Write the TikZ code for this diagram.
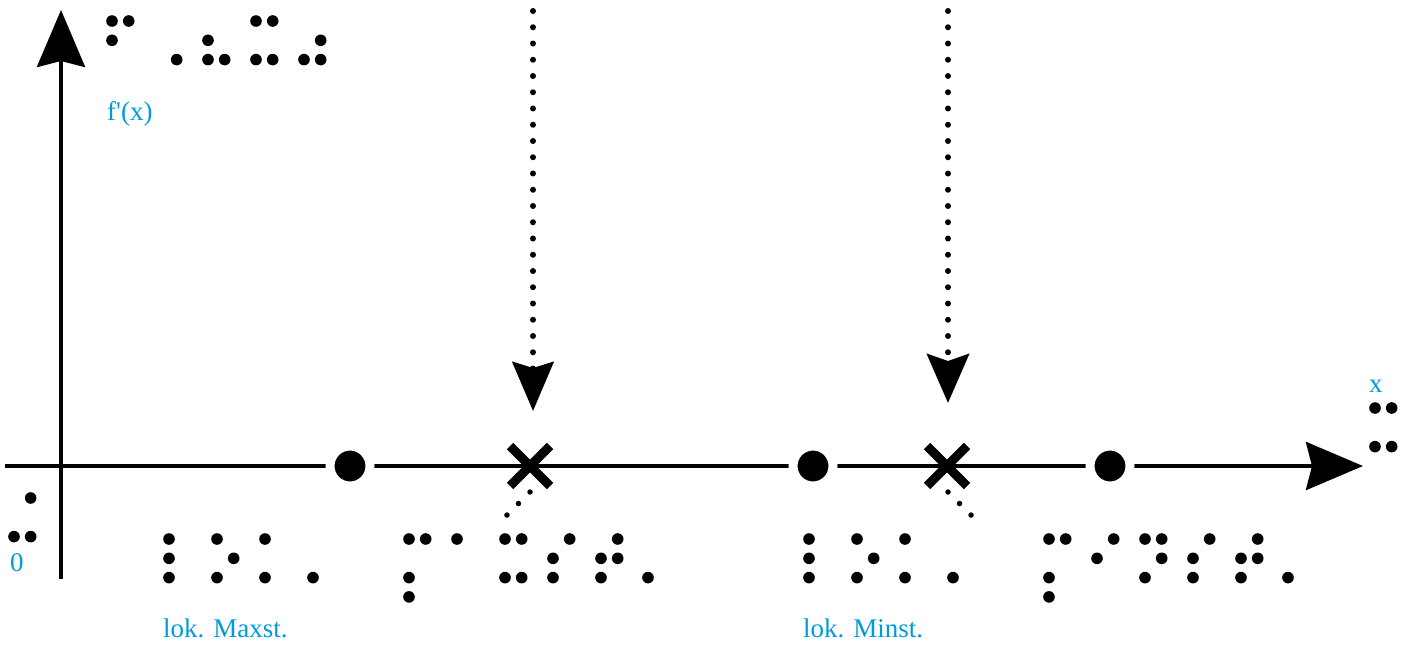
\documentclass[tikz,border=0pt]{standalone}
\usepackage{fontspec}
\setmainfont{Liberation Serif}
\usepackage{xcolor}
\usepackage{tikz}
\usetikzlibrary{arrows.meta, shapes.misc}

\definecolor{labelblue}{RGB}{0,155,220}

% one braille cell, top left dot at (#1,#2), dots #3 (8-dot numbering)
\newcommand{\brl}[3]{%
  \foreach \d in {#3}{
    \pgfmathsetmacro{\bx}{#1+16.7*{0,0,0,1,1,1,0,1}[\d-1]}
    \pgfmathsetmacro{\by}{#2+19.3*{0,1,2,0,1,2,3,3}[\d-1]}
    \fill (\bx,\by) circle (5.8pt);
  }}

\begin{document}
\begin{tikzpicture}[
    x=1pt, y=-1pt,
    axis/.style={line width=4pt},
    dotline/.style={line width=6pt, line cap=round, dash pattern=on 0pt off 16.25pt},
    smalldots/.style={line width=5.5pt, line cap=round, dash pattern=on 0pt off 16.3pt},
    extremum/.style={circle, fill=black, draw=white, line width=9pt, minimum size=40pt, inner sep=0pt},
    crossmark/.style={cross out, draw=black, line width=9pt, minimum size=31pt, inner sep=0pt},
    lbl/.style={text=labelblue, font=\fontsize{27}{32}\selectfont, inner sep=0pt, anchor=base west}
]
\useasboundingbox (0,0) rectangle (1409,645);

% axes
\coordinate (xstart) at (5,466);
\coordinate (xtip) at (1363,466);
\coordinate (ystart) at (61,579);
\coordinate (ytip) at (61,10);
\draw [axis, -{Stealth[length=57pt, width=48pt, inset=6pt]}] (xstart) -- (xtip);
\draw [axis, -{Stealth[length=57pt, width=48pt, inset=6pt]}] (ystart) -- (ytip);

% points on the x axis
\node (max) [extremum] at (350,466) {};
\node (min) [extremum] at (813,466) {};
\node (right) [extremum] at (1110,466) {};
\node (zero1) [crossmark] at (530,466) {};
\node (zero2) [crossmark] at (947,466) {};

% dotted arrows from the top
\coordinate (top1) at (533,11);
\coordinate (tip1) at (533,411);
\coordinate (top2) at (948,11);
\coordinate (tip2) at (948,403);
\draw [dotline, -{Stealth[length=49pt, width=41pt, inset=6pt]}] (top1) -- (tip1);
\draw [dotline, -{Stealth[length=49pt, width=42pt, inset=7pt]}] (top2) -- (tip2);

% dotted leaders below the crosses
\coordinate (lead1a) at (530,492);
\coordinate (lead1b) at (506.5,515.5);
\coordinate (lead2a) at (948,492);
\coordinate (lead2b) at (971.5,515.5);
\draw [smalldots] (lead1a) -- (lead1b);
\draw [smalldots] (lead2a) -- (lead2b);

% labels
\node (fx) [lbl] at (107,120) {f\textquotesingle(x)};
\node (orig) [lbl] at (10,571) {0};
\node (xlbl) [lbl] at (1369,392) {x};
\node (maxlbl) [lbl] at (163,637) {lok. Maxst.};
\node (minlbl) [lbl] at (803,637) {lok. Minst.};

% braille: f'(x)
\brl{112}{21}{1,2,4}
\brl{160}{21}{6}
\brl{208}{21}{2,3,6}
\brl{256}{21}{1,3,4,6}
\brl{304}{21}{3,5,6}
% braille: 0 and x
\brl{14}{498}{4,3,6}
\brl{1375}{408}{1,3,4,6}
% braille: lok. Maxst.
\brl{169}{539}{1,2,3}
\brl{217}{539}{1,3,5}
\brl{265}{539}{1,3}
\brl{313}{539}{3}
\brl{409}{539}{1,3,4,7}
\brl{457}{539}{1}
\brl{505}{539}{1,3,4,6}
\brl{553}{539}{2,3,4}
\brl{601}{539}{2,3,4,5}
\brl{648}{539}{3}
% braille: lok. Minst.
\brl{809}{539}{1,2,3}
\brl{857}{539}{1,3,5}
\brl{905}{539}{1,3}
\brl{953}{539}{3}
\brl{1049}{539}{1,3,4,7}
\brl{1097}{539}{2,4}
\brl{1145}{539}{1,3,4,5}
\brl{1193}{539}{2,3,4}
\brl{1241}{539}{2,3,4,5}
\brl{1288}{539}{3}
\end{tikzpicture}
\end{document}
